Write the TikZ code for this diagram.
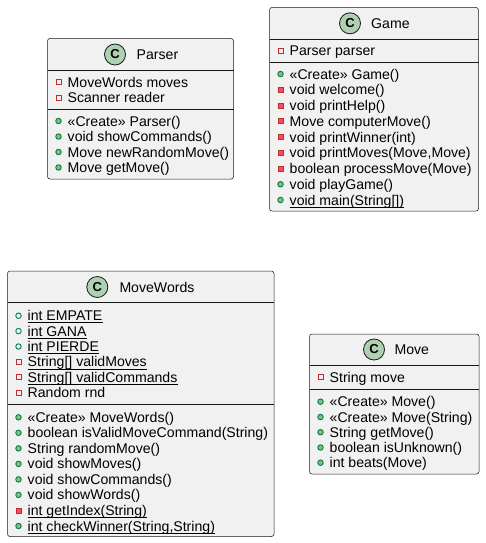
\documentclass[tikz,border=0pt]{standalone}
\usepackage{fontspec}
\setmainfont{Liberation Sans}
\definecolor{boxfill}{HTML}{F1F1F1}
\definecolor{boxline}{HTML}{181818}
\definecolor{spotfill}{HTML}{ADD1B2}
\definecolor{privline}{HTML}{C82930}
\definecolor{privfill}{HTML}{F24D5C}
\definecolor{publine}{HTML}{038048}
\definecolor{pubfill}{HTML}{84BE84}
\tikzset{
  umlbox/.style={draw=boxline, line width=0.5pt, fill=boxfill, rounded corners=2.5pt},
  sepline/.style={draw=boxline, line width=0.5pt},
  spot/.style={circle, draw=boxline, line width=0.8pt, fill=spotfill, minimum size=21pt, inner sep=0pt, font=\fontsize{13}{13}\selectfont\bfseries},
  titletext/.style={anchor=base west, inner sep=0pt, font=\fontsize{14.1}{16}\selectfont},
  memtext/.style={anchor=base west, inner sep=0pt, font=\fontsize{14.1}{16}\selectfont},
  icon/.style={inner sep=0pt, line width=0.9pt, minimum size=5pt},
  privf/.style={rectangle, draw=privline},
  privm/.style={rectangle, draw=privline, fill=privfill},
  pubf/.style={circle, draw=publine, minimum size=5.5pt},
  pubm/.style={circle, draw=publine, fill=pubfill, minimum size=5.5pt},
  ulstyle/.style={line width=0.8pt, draw=black}
}
\newcommand\umem[5]{%
  \node[icon,#4] (#1i) at ({#2+11},{#3}) {};
  \node[memtext] (#1) at ({#2+20},{#3+5}) {#5};
}
\newcommand\uline[1]{\draw[ulstyle] ([yshift=-2pt]#1.base west) -- ([yshift=-2pt]#1.base east);}
\begin{document}
\begin{tikzpicture}[x=1pt,y=-1pt]
\useasboundingbox (0,0) rectangle (485,543);
% ---------------- Parser ----------------
\draw[umlbox] (47.5,38.5) rectangle (233.5,179);
\draw[sepline] (47.5,70.7) -- (233.5,70.7);
\draw[sepline] (47.5,109.3) -- (233.5,109.3);
\node[spot] (ps) at (115,54.5) {C};
\node[titletext] (pt) at (136.5,59.5) {Parser};
\umem{pa1}{47.5}{82.3}{privf}{MoveWords moves}
\umem{pa2}{47.5}{97.8}{privf}{Scanner reader}
\umem{pm1}{47.5}{121}{pubm}{«Create» Parser()}
\umem{pm2}{47.5}{136.5}{pubm}{void showCommands()}
\umem{pm3}{47.5}{152}{pubm}{Move newRandomMove()}
\umem{pm4}{47.5}{167.5}{pubm}{Move getMove()}
% ---------------- Game ----------------
\draw[umlbox] (269.5,7.5) rectangle (478.5,211);
\draw[sepline] (269.5,39.3) -- (478.5,39.3);
\draw[sepline] (269.5,62) -- (478.5,62);
\node[spot] (gs) at (350,23.3) {C};
\node[titletext] (gt) at (371,28.3) {Game};
\umem{ga1}{269.5}{51}{privf}{Parser parser}
\umem{gm1}{269.5}{74}{pubm}{«Create» Game()}
\umem{gm2}{269.5}{89.75}{privm}{void welcome()}
\umem{gm3}{269.5}{105.5}{privm}{void printHelp()}
\umem{gm4}{269.5}{121.25}{privm}{Move computerMove()}
\umem{gm5}{269.5}{137}{privm}{void printWinner(int)}
\umem{gm6}{269.5}{152.75}{privm}{void printMoves(Move,Move)}
\umem{gm7}{269.5}{168.5}{privm}{boolean processMove(Move)}
\umem{gm8}{269.5}{184.25}{pubm}{void playGame()}
\umem{gm9}{269.5}{200}{pubm}{void main(String[])}
\uline{gm9}
% ---------------- MoveWords ----------------
\draw[umlbox] (7.5,271) rectangle (274,536.5);
\draw[sepline] (7.5,302.7) -- (274,302.7);
\draw[sepline] (7.5,404.3) -- (274,404.3);
\node[spot] (ws) at (97.3,287) {C};
\node[titletext] (wt) at (119.3,292) {MoveWords};
\umem{wa1}{7.5}{315.7}{pubf}{int EMPATE}
\uline{wa1}
\umem{wa2}{7.5}{331.1}{pubf}{int GANA}
\uline{wa2}
\umem{wa3}{7.5}{346.5}{pubf}{int PIERDE}
\uline{wa3}
\umem{wa4}{7.5}{361.9}{privf}{String[] validMoves}
\uline{wa4}
\umem{wa5}{7.5}{377.3}{privf}{String[] validCommands}
\uline{wa5}
\umem{wa6}{7.5}{392.7}{privf}{Random rnd}
\umem{wm1}{7.5}{417.3}{pubm}{«Create» MoveWords()}
\umem{wm2}{7.5}{432.8}{pubm}{boolean isValidMoveCommand(String)}
\umem{wm3}{7.5}{448.4}{pubm}{String randomMove()}
\umem{wm4}{7.5}{463.9}{pubm}{void showMoves()}
\umem{wm5}{7.5}{479.4}{pubm}{void showCommands()}
\umem{wm6}{7.5}{494.9}{pubm}{void showWords()}
\umem{wm7}{7.5}{510.5}{privm}{int getIndex(String)}
\uline{wm7}
\umem{wm8}{7.5}{526}{pubm}{int checkWinner(String,String)}
\uline{wm8}
% ---------------- Move ----------------
\draw[umlbox] (309.5,334) rectangle (479,474);
\draw[sepline] (309.5,365.7) -- (479,365.7);
\draw[sepline] (309.5,389.3) -- (479,389.3);
\node[spot] (ms) at (374,349.5) {C};
\node[titletext] (mt) at (394.3,354.5) {Move};
\umem{ma1}{309.5}{377.3}{privf}{String move}
\umem{mm1}{309.5}{401.7}{pubm}{«Create» Move()}
\umem{mm2}{309.5}{417}{pubm}{«Create» Move(String)}
\umem{mm3}{309.5}{432.2}{pubm}{String getMove()}
\umem{mm4}{309.5}{447.5}{pubm}{boolean isUnknown()}
\umem{mm5}{309.5}{462.7}{pubm}{int beats(Move)}
\end{tikzpicture}
\end{document}
